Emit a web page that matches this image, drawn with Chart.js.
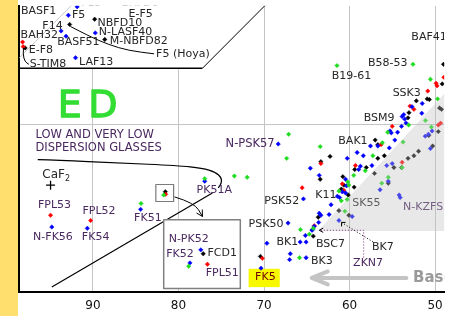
<!DOCTYPE html>
<html><head><meta charset="utf-8">
<script src="https://cdn.jsdelivr.net/npm/chart.js@4.4.1/dist/chart.umd.min.js"></script>
<style>html,body{margin:0;padding:0;background:#fff;overflow:hidden}canvas{display:block}</style>
</head><body>
<canvas id="c" width="450" height="316" style="width:450px;height:316px"></canvas>
<script>
// Abbe number (vd) on x, partial dispersion (theta g,F) on y
const X_TICKS = [90, 80, 70, 60, 50];
const Y_GRID = [0.55];

const blueGlasses = [
[92.88,0.5667],[91.85,0.5680],[93.73,0.5643],[93.15,0.5635],[89.73,0.5640],[92.04,0.5602],
[94.81,0.5343],[90.66,0.5341],[84.43,0.5370],[76.93,0.5413],[78.66,0.5288],[77.39,0.5308],
[68.34,0.5470],[64.58,0.5433],[65.39,0.5386],[67.19,0.5349],[64.39,0.5338],[65.16,0.5330],
[65.77,0.5320],[65.08,0.5320],[69.66,0.5318],[70.35,0.5280],[66.93,0.5302],[67.01,0.5293],
[65.08,0.5296],[63.54,0.5422],[60.46,0.5416],[60.35,0.5406],[60.85,0.5397],[60.46,0.5395],
[61.42,0.5390],[61.16,0.5388],[62.16,0.5377],[63.54,0.5364],[63.35,0.5361],[63.61,0.5350],
[64.12,0.5344],[64.31,0.5339],[62.39,0.5362],[58.73,0.5436],[58.93,0.5431],[57.38,0.5437],
[60.27,0.5448],[59.11,0.5457],[58.39,0.5452],[57.55,0.5467],[56.69,0.5467],[55.35,0.5464],
[54.70,0.5476],[55.27,0.5490],[55.12,0.5487],[54.38,0.5488],[53.92,0.5497],[53.39,0.5502],
[53.66,0.5515],[53.85,0.5512],[53.54,0.5508],[52.70,0.5527],[51.50,0.5532],[51.55,0.5517],
[51.15,0.5482],[50.77,0.5485],[50.35,0.5490],[55.65,0.5437],[55.47,0.5413],[54.20,0.5392],
[54.08,0.5388],[56.43,0.5400],[61.24,0.5353],[59.69,0.5359],[55.01,0.5440],[50.54,0.5463]
];
const redGlasses = [
[98.23,0.5626],[98.16,0.5619],[94.96,0.5361],[90.27,0.5353],[81.50,0.5393],[76.62,0.5286],
[65.54,0.5403],[64.12,0.5345],[70.19,0.5295],[63.35,0.5440],[60.85,0.5409],[60.66,0.5399],
[59.31,0.5437],[56.31,0.5469],[55.01,0.5497],[52.93,0.5528],[52.47,0.5523],[50.85,0.5551],
[49.77,0.5559],[49.88,0.5563],[48.97,0.5572],[49.35,0.5502],[49.62,0.5499],[53.85,0.5442]
];
const greenGlasses = [
[61.47,0.5590],[52.58,0.5592],[50.54,0.5569],[84.38,0.5379],[76.93,0.5417],[81.73,0.5392],
[78.81,0.5283],[67.12,0.5485],[67.35,0.5448],[73.47,0.5421],[71.97,0.5419],[63.43,0.5466],
[65.74,0.5339],[64.24,0.5341],[64.70,0.5332],[65.85,0.5296],[60.20,0.5412],[60.08,0.5407],
[59.51,0.5422],[58.16,0.5429],[61.24,0.5398],[60.96,0.5383],[57.27,0.5452],[56.16,0.5472],
[55.54,0.5488],[53.08,0.5499],[53.74,0.5473],[49.70,0.5539],[51.12,0.5506],[50.43,0.5496],
[55.47,0.5419],[56.23,0.5410],[53.85,0.5434],[60.27,0.5385],[60.54,0.5367]
];
const blackGlasses = [
[97.93,0.5617],[92.73,0.5653],[89.80,0.5661],[88.62,0.5630],[81.54,0.5397],[77.11,0.5302],
[70.42,0.5298],[64.24,0.5329],[63.66,0.5358],[63.43,0.5416],[62.28,0.5451],[63.35,0.5443],
[60.78,0.5420],[60.66,0.5407],[60.96,0.5401],[60.15,0.5392],[59.39,0.5431],[58.04,0.5434],
[59.46,0.5404],[57.00,0.5476],[56.69,0.5469],[55.93,0.5452],[56.69,0.5448],[53.05,0.5518],
[53.16,0.5510],[52.19,0.5536],[50.92,0.5539],[50.66,0.5538],[49.16,0.5562],[49.01,0.5592],
[57.08,0.5425],[54.81,0.5434],[53.92,0.5434],[55.47,0.5410],[61.24,0.5368],[60.08,0.5361],
[49.47,0.5525],[49.24,0.5523],[49.62,0.5489],[52.47,0.5452],[51.93,0.5459],[53.16,0.5448],
[50.28,0.5467],[50.74,0.5483]
];
const caf2 = [[94.96,0.5407]];

// annotation text (label, vd, theta, colour key)
const LABELS = [
 ['BASF1',98.42,0.5673,'d'],['F15',91.38,0.5686,'d'],['BAFD6',86.65,0.5686,'d'],['F5',92.46,0.5667,'d'],['E-F5',85.85,0.5669,'d'],
 ['F14',95.92,0.5650,'d'],['NBFD10',89.46,0.5655,'d'],['BAH32',98.46,0.5637,'d'],['N-LASF40',89.31,0.5641,'d'],
 ['BASF51',94.19,0.5626,'d'],['M-NBFD82',88.04,0.5628,'d'],['E-F8',97.50,0.5614,'d'],['S-TIM8',97.38,0.5592,'d'],
 ['LAF13',91.62,0.5596,'d'],['F5 (Hoya)',82.62,0.5607,'d'],
 ['B19-61',62.08,0.5574,'d'],['B58-53',57.85,0.5593,'d'],['BAF41',52.77,0.5634,'d'],['SSK3',54.96,0.5548,'d'],
 ['BSM9',58.35,0.5509,'d'],['BAK1',61.31,0.5474,'d'],['N-PSK57',74.50,0.5470,'p'],
 ['LOW AND VERY LOW',96.73,0.5484,'p'],['DISPERSION GLASSES',96.73,0.5464,'p'],
 ['FPL53',96.43,0.5376,'p'],['N-FK56',97.00,0.5327,'p'],['FPL52',91.23,0.5367,'p'],['FK54',91.30,0.5327,'p'],
 ['FK51',85.19,0.5356,'p'],['PK51A',77.89,0.5400,'p'],['N-PK52',81.15,0.5325,'p'],['FK52',81.43,0.5301,'p'],
 ['FCD1',76.62,0.5303,'d'],['FPL51',76.81,0.5272,'p'],['PSK52',69.96,0.5382,'d'],['K11',64.01,0.5392,'d'],
 ['PSK50',71.80,0.5348,'d'],['BK1',68.54,0.5320,'d'],['BSC7',63.92,0.5317,'d'],['BK3',64.50,0.5290,'d'],
 ['FK5',71.04,0.5266,'m'],['BK7',57.38,0.5312,'d'],['ZKN7',59.58,0.5287,'p']
];
const SHADED_LABELS = [['SK55',59.69,0.5379,'d'],['N-KZFS',53.74,0.5374,'p']];
const TEXT_COL = {d:'#262626', p:'#4a2860', m:'#700000'};

const X_MIN = 48.93, X_MAX = 98.65, Y_MIN = 0.52435, Y_MAX = 0.56815;

const deco = {
  id: 'deco',
  beforeDraw(chart) {
    const c = chart.ctx; c.save();
    c.fillStyle = '#FFDF6E'; c.fillRect(0, 0, 18, chart.height);
    c.restore();
  },
  beforeDatasetsDraw(chart) {
    const c = chart.ctx, a = chart.chartArea;
    const X = v => chart.scales.x.getPixelForValue(v), Y = v => chart.scales.y.getPixelForValue(v);
    c.save();
    c.beginPath(); c.rect(a.left, a.top, a.right - a.left, a.bottom - a.top); c.clip();
    // top-left inset (white)
    c.fillStyle = '#fff';
    c.beginPath();
    c.moveTo(a.left + 1.5, Y(0.5586)); c.lineTo(X(77.19), Y(0.5586)); c.lineTo(X(69.12), Y(0.5692)); c.lineTo(a.left + 1.5, Y(0.5692));
    c.closePath(); c.fill();
    c.strokeStyle = '#000'; c.lineWidth = 1.5;
    c.beginPath(); c.moveTo(a.left, Y(0.5586)); c.lineTo(X(77.19), Y(0.5586)); c.stroke();
    c.lineWidth = 1;
    c.beginPath(); c.moveTo(X(77.19), Y(0.5586)); c.lineTo(X(69.12), Y(0.5692)); c.stroke();
    c.strokeStyle = '#c8c8c8';
    c.beginPath(); c.moveTo(X(98.60), Y(0.5602)); c.lineTo(X(92.08), Y(0.5688)); c.stroke();
    // low-dispersion region outline
    const curve = [[96.46,0.5446],[94.15,0.5445],[87.00,0.5441],[80.08,0.5437],[77.19,0.5433],[75.69,0.5427],[74.94,0.5418],[75.00,0.5409],[75.35,0.5403]];
    c.strokeStyle = '#000'; c.lineWidth = 1.2; c.lineJoin = 'round';
    smooth(c, curve.map(p => [X(p[0]), Y(p[1])]));
    c.beginPath(); c.moveTo(X(94.81), Y(0.5251)); c.lineTo(X(76.04), Y(0.5395)); c.stroke();
    // big inset box
    const bx = X(81.73), by = Y(0.5354), bw = X(72.77) - bx, bh = Y(0.5249) - by;
    c.fillStyle = '#fff'; c.fillRect(bx, by, bw, bh);
    c.strokeStyle = '#808080'; c.lineWidth = 1.5; c.strokeRect(bx, by, bw, bh);
    // small box
    const sx = X(82.65), sy = Y(0.5408);
    c.strokeStyle = '#7a7a7a'; c.lineWidth = 1.2; c.strokeRect(sx, sy, X(80.57) - sx, Y(0.5382) - sy);
    // FK5 highlight
    const hx = X(71.80), hy = Y(0.5279);
    c.fillStyle = '#F8F800'; c.fillRect(hx, hy, X(68.16) - hx, Y(0.5251) - hy);
    c.restore();
  },
  afterDatasetsDraw(chart) {
    const c = chart.ctx, a = chart.chartArea;
    const X = v => chart.scales.x.getPixelForValue(v), Y = v => chart.scales.y.getPixelForValue(v);
    c.save();
    c.beginPath(); c.rect(a.left, a.top, a.right - a.left, a.bottom - a.top); c.clip();
    c.textBaseline = 'middle'; c.textAlign = 'left';
    c.font = '11px "DejaVu Sans"';
    SHADED_LABELS.forEach(l => { c.fillStyle = TEXT_COL[l[3]]; c.fillText(l[0], X(l[1]), Y(l[2])); });
    // shaded normal-glass region
    c.fillStyle = 'rgba(190,190,190,0.36)';
    c.beginPath(); c.moveTo(X(63.69), Y(0.5337)); c.lineTo(X(47.77), Y(0.5563)); c.lineTo(X(47.77), Y(0.5337)); c.closePath(); c.fill();
    // labels
    LABELS.forEach(l => {
      c.font = (l[0] === 'N-PSK57' || l[0].length > 10) ? '11.5px "DejaVu Sans"' : '11px "DejaVu Sans"';
      c.fillStyle = TEXT_COL[l[3]]; c.fillText(l[0], X(l[1]), Y(l[2]));
    });
    // CaF2
    c.fillStyle = '#262626'; c.font = '12px "DejaVu Sans"';
    const cx = X(95.92), cy = Y(0.5422);
    c.fillText('CaF', cx, cy);
    const w = c.measureText('CaF').width;
    c.font = '8px "DejaVu Sans"'; c.fillText('2', cx + w, cy + 4);
    // leaders
    c.strokeStyle = '#000'; c.lineWidth = 1; c.lineJoin = 'round';
    smooth(c, [[92.65,0.5650],[90.46,0.5635],[88.15,0.5622],[85.85,0.5613],[82.85,0.5608]].map(p => [X(p[0]), Y(p[1])]));
    smooth(c, [[98.13,0.5617],[98.19,0.5607],[97.96,0.5596],[97.50,0.5592]].map(p => [X(p[0]), Y(p[1])]));
    const arr = [[80.46,0.5389],[78.15,0.5380],[77.19,0.5359]].map(p => [X(p[0]), Y(p[1])]);
    smooth(c, arr);
    head(c, arr[2][0], arr[2][1], Math.atan2(arr[2][1] - arr[1][1], arr[2][0] - arr[1][0]), 7);
    // ZKN7 dotted
    c.setLineDash([1, 2]); c.strokeStyle = '#7a2a7a'; c.lineWidth = 1;
    c.beginPath(); c.moveTo(X(63.35), Y(0.5338)); c.lineTo(X(58.35), Y(0.5338)); c.lineTo(X(58.35), Y(0.5295)); c.stroke();
    c.strokeStyle = '#000';
    c.beginPath(); c.moveTo(X(60.93), Y(0.5350)); c.lineTo(X(57.23), Y(0.5320)); c.stroke();
    c.setLineDash([]);
    head(c, X(63.54), Y(0.5338), Math.PI, 4.5);
    const kx = X(60.93), ky = Y(0.5350);
    c.beginPath(); c.moveTo(kx + 4, ky); c.lineTo(kx, ky); c.lineTo(kx, ky + 4); c.stroke();
    // Base arrow
    c.strokeStyle = '#C4C4C4'; c.lineWidth = 4; c.lineCap = 'round';
    const ax0 = X(53.35), ax1 = X(64.42), ay = Y(0.5265);
    c.beginPath(); c.moveTo(ax0, ay); c.lineTo(ax1 + 2, ay); c.stroke();
    c.beginPath(); c.moveTo(ax1 + 16, ay - 6.5); c.lineTo(ax1, ay); c.lineTo(ax1 + 16, ay + 6.5); c.stroke();
    c.fillStyle = '#9a9a9a'; c.font = 'bold 15px "DejaVu Sans"';
    c.fillText('Base', X(52.58), ay);
    // ED
    c.fillStyle = '#33dd33'; c.strokeStyle = '#33dd33'; c.lineWidth = 1.3;
    c.font = '38px "DejaVu Sans"';
    c.fillText('E', X(94.12), Y(0.5526)); c.strokeText('E', X(94.12), Y(0.5526));
    c.fillText('D', X(90.54), Y(0.5526)); c.strokeText('D', X(90.54), Y(0.5526));
    c.restore();
  }
};
function smooth(c, pts) {
  c.beginPath(); c.moveTo(pts[0][0], pts[0][1]);
  for (let i = 1; i < pts.length - 1; i++) {
    const mx = (pts[i][0] + pts[i + 1][0]) / 2, my = (pts[i][1] + pts[i + 1][1]) / 2;
    c.quadraticCurveTo(pts[i][0], pts[i][1], mx, my);
  }
  const l = pts[pts.length - 1]; c.lineTo(l[0], l[1]); c.stroke();
}
function head(c, x, y, ang, s) {
  c.beginPath();
  c.moveTo(x - s * Math.cos(ang - 0.5), y - s * Math.sin(ang - 0.5));
  c.lineTo(x, y);
  c.lineTo(x - s * Math.cos(ang + 0.5), y - s * Math.sin(ang + 0.5));
  c.stroke();
}
const pts = arr => arr.map(p => ({x: p[0], y: p[1]}));
const ds = (data, col) => ({data: pts(data), pointStyle: 'rectRot', pointRadius: 2.2, backgroundColor: col, borderColor: col, borderWidth: 0.5});

new Chart(document.getElementById('c'), {
  type: 'scatter',
  data: { datasets: [
    ds(greenGlasses, '#1edc1e'), ds(blueGlasses, '#0000ff'), ds(redGlasses, '#ff0000'), ds(blackGlasses, '#000000'),
    {data: pts(caf2), pointStyle: 'cross', pointRadius: 4.5, borderColor: '#000', borderWidth: 1.3, backgroundColor: '#000'}
  ]},
  options: {
    responsive: false, animation: false, devicePixelRatio: 1,
    layout: { padding: { left: 19, right: 0, top: 0, bottom: 0 } },
    plugins: { legend: {display: false}, tooltip: {enabled: false} },
    scales: {
      x: { type: 'linear', reverse: true, min: X_MIN, max: X_MAX,
        afterBuildTicks: s => { s.ticks = X_TICKS.map(v => ({value: v})); },
        afterFit: s => { s.height = 24; },
        grid: { color: '#c4c4c4', lineWidth: 1, drawTicks: false },
        border: { display: true, color: '#000', width: 2 },
        ticks: { font: {family: 'DejaVu Sans', size: 12}, color: '#111', padding: 7, maxRotation: 0, autoSkip: false } },
      y: { type: 'linear', min: Y_MIN, max: Y_MAX,
        afterBuildTicks: s => { s.ticks = Y_GRID.map(v => ({value: v})); },
        afterFit: s => { s.width = 0; },
        grid: { color: '#c4c4c4', lineWidth: 1, drawTicks: false },
        border: { display: true, color: '#000', width: 2 },
        ticks: { display: false } }
    }
  },
  plugins: [deco]
});
</script>
</body></html>
